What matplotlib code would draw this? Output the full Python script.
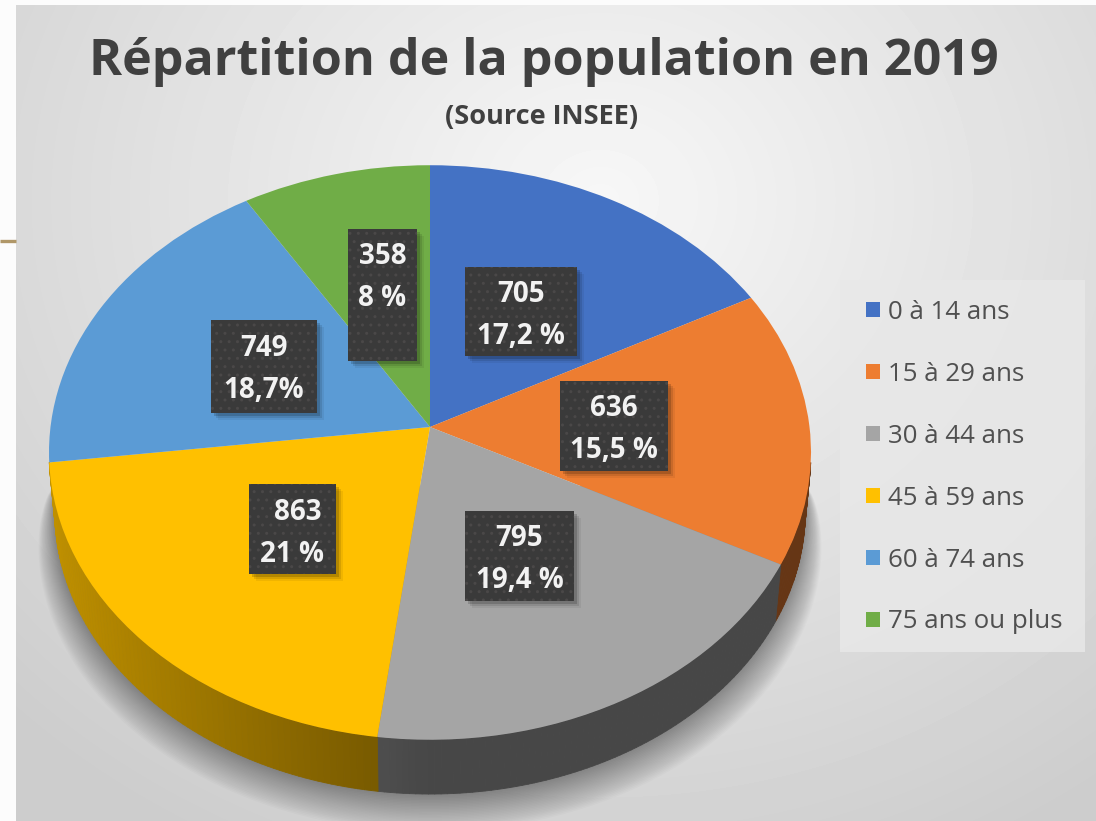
import matplotlib

matplotlib.use("Agg")
import matplotlib.pyplot as plt
import numpy as np
from matplotlib.collections import PolyCollection
from matplotlib.colors import to_rgb
from matplotlib.patches import Rectangle
from matplotlib.transforms import Transform

# Chart data
categories = ["0 à 14 ans", "15 à 29 ans", "30 à 44 ans", "45 à 59 ans", "60 à 74 ans", "75 ans ou plus"]
counts = [705, 636, 795, 863, 749, 358]
percent_labels = ["17,2 %", "15,5 %", "19,4 %", "21 %", "18,7%", "8 %"]
colors = ["#4472c4", "#ed7d31", "#a5a5a5", "#ffc000", "#5b9bd5", "#70ad47"]

# Label boxes in pixels: left, top, right, bottom
label_boxes = [
    (465, 267, 577, 356),
    (560, 381, 668, 471),
    (465, 511, 574, 601),
    (249, 484, 336, 574),
    (211, 320, 317, 413),
    (348, 229, 417, 361),
]
label_shift = [0, 0, 0, 5, 0, 0]

W, H = 1096, 821
FONT = "Open Sans"

# Perspective of the pie disc
CX, CY = 430.0, 427.0
RX, RY = 379.5, 285.0
K = 0.0887
DEPTH = 59.0
BOTTOM_SCALE = 0.985


def project(x, y, scale=1.0, drop=0.0):
    w = 1 + K * y
    return CX + scale * RX * x / w, CY + drop - scale * RY * y / w


class DiscTransform(Transform):
    input_dims = 2
    output_dims = 2
    is_separable = False
    has_inverse = False

    def transform_non_affine(self, values):
        values = np.asarray(values)
        px, py = project(values[:, 0], values[:, 1])
        return np.column_stack([px, py])


def make_background():
    yy, xx = np.mgrid[0:H, 0:W]
    r = np.hypot((xx - 600) / 1.15, yy - 200)
    grey = 247 - 42 * np.clip(r / 720, 0, 1)
    grey[:, :16] = 252
    grey[:5, :] = 252
    return grey / 255


fig = plt.figure(figsize=(W / 100, H / 100), dpi=100)
ax = fig.add_axes([0, 0, 1, 1])

wedges, _ = ax.pie(counts, colors=colors, startangle=90, counterclock=False)
ax.set_aspect("auto")
ax.imshow(make_background(), cmap="gray", vmin=0, vmax=1, extent=(0, W, H, 0), aspect="auto", zorder=0)
ax.set_xlim(0, W)
ax.set_ylim(H, 0)
ax.axis("off")

# Soft shadow under the lower half of the pie
t = np.radians(np.linspace(180, 360, 200))
for s in np.linspace(0.0, 0.11, 26):
    grow = 1 + s * np.sqrt(np.clip(-np.sin(t), 0, 1))
    sx, sy = project(np.cos(t) * grow, np.sin(t) * grow, BOTTOM_SCALE, DEPTH)
    ax.fill(sx, sy, color="black", alpha=0.015, lw=0, zorder=1)

# Side wall, cut in thin strips so that it can darken towards the front
disc = DiscTransform()
for wedge, color in zip(wedges, colors):
    angles = np.radians(np.linspace(wedge.theta1, wedge.theta2, 80))
    quads, shades = [], []
    for a0, a1 in zip(angles[:-1], angles[1:]):
        if np.sin(a0) > -0.13 and np.sin(a1) > -0.13:
            continue
        x0, y0 = np.cos(a0), np.sin(a0)
        x1, y1 = np.cos(a1), np.sin(a1)
        quads.append([
            project(x0, y0),
            project(x1, y1),
            project(x1, y1, BOTTOM_SCALE, DEPTH),
            project(x0, y0, BOTTOM_SCALE, DEPTH),
        ])
        f = 0.43 + 0.33 * max(0, -(x0 + x1) / 2)
        shades.append(np.array(to_rgb(color)) * f)
    if quads:
        ax.add_collection(PolyCollection(quads, facecolors=shades, edgecolors=shades, linewidths=0.6, zorder=2))

# Top of the pie
for wedge in wedges:
    wedge.set_transform(disc + ax.transData)
    wedge.set_zorder(3)
    wedge.set_linewidth(0)

# Slice labels
for count, pct, (x0, y0, x1, y1), dx in zip(counts, percent_labels, label_boxes, label_shift):
    for off, alpha in [(7, 0.06), (5, 0.10), (3, 0.16)]:
        ax.add_patch(Rectangle((x0 + off, y0 + off), x1 - x0, y1 - y0, fc="black", ec="none", alpha=alpha, zorder=4))
    ax.add_patch(Rectangle((x0, y0), x1 - x0, y1 - y0, fc="#3a3a3a", ec="#4a4848", hatch="..", lw=0, zorder=5))
    xc = (x0 + x1) / 2
    ax.text(xc + dx, y0 + 28, str(count), color="#f2f2f2", fontsize=20, fontweight="bold", family=FONT,
            ha="center", va="center", zorder=6)
    ax.text(xc, y0 + 70, pct, color="#f2f2f2", fontsize=20, fontweight="bold", family=FONT,
            ha="center", va="center", zorder=6)

# Titles
ax.text(544, 62, "Répartition de la population en 2019", color="#404040", fontsize=36.2, fontweight="bold",
        family=FONT, ha="center", va="center", zorder=6)
ax.text(542, 117, "(Source INSEE)", color="#404040", fontsize=19.5, fontweight="bold", family=FONT,
        ha="center", va="center", zorder=6)

# Legend
ax.add_patch(Rectangle((840, 280), 245, 372, fc="#e8e8e8", ec="none", alpha=0.85, zorder=1))
legend = ax.legend(
    wedges,
    categories,
    loc="upper left",
    bbox_to_anchor=(858 / W, 1 - 292 / H),
    frameon=False,
    prop={"family": FONT, "size": 18.6},
    labelcolor="#505050",
    handlelength=0.55,
    handleheight=0.55,
    handletextpad=0.32,
    labelspacing=1.43,
    borderpad=0.3,
    borderaxespad=0,
)
legend.set_zorder(6)

# Slide decoration on the left edge
ax.plot([0, 16], [241, 241], color="#b09768", lw=2.4, solid_capstyle="butt", zorder=1)

fig.savefig("out.png", dpi=100)
